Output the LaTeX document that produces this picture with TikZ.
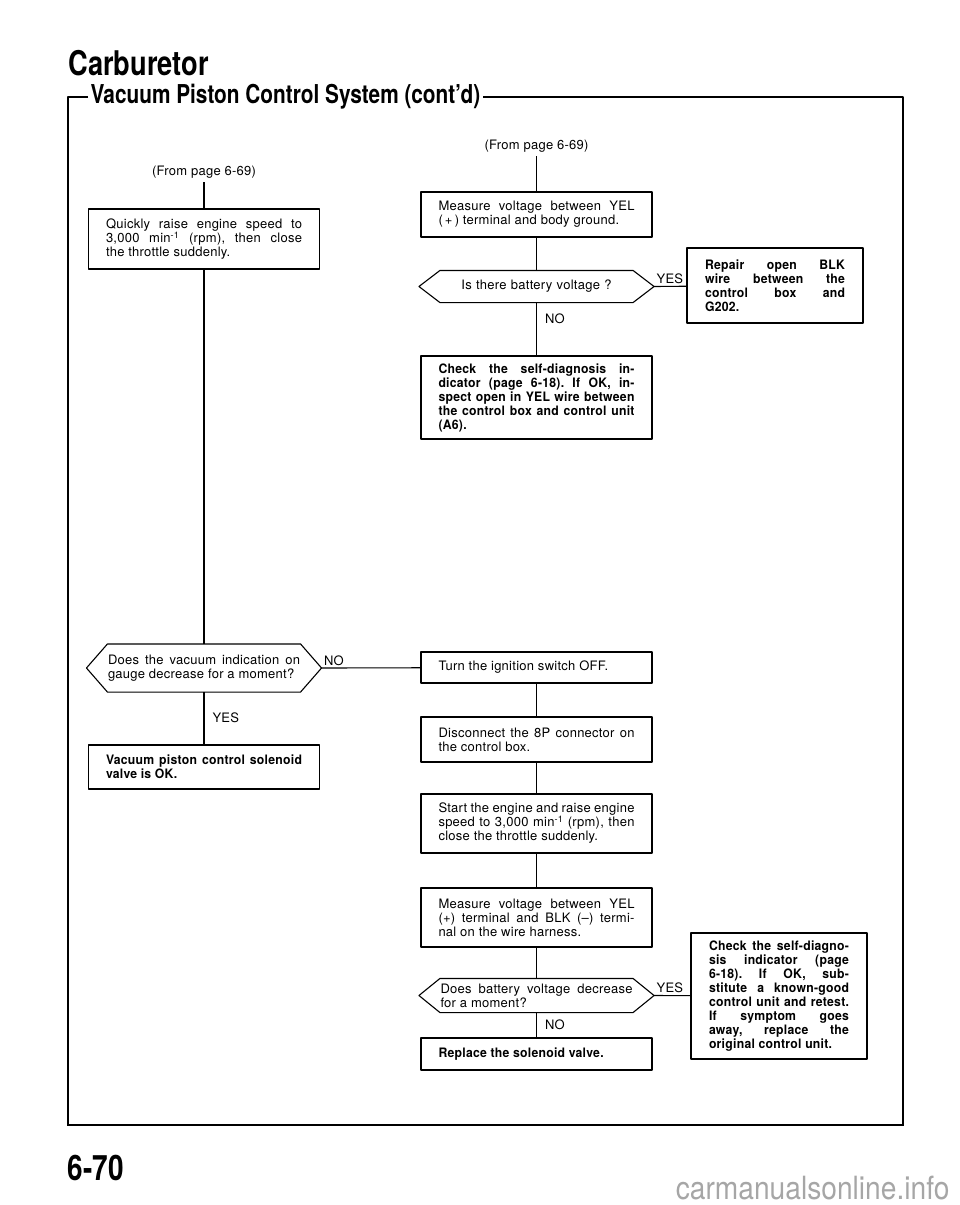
\documentclass[tikz,border=0pt]{standalone}
\usepackage{fontspec}
\setmainfont{TeX Gyre Heros}
\newfontfamily\bodyfont[LetterSpace=2,BoldFeatures={FakeStretch=0.94}]{TeX Gyre Heros}
\newfontfamily\headfont[FakeStretch=0.8]{TeX Gyre Heros}
\newfontfamily\markfont[FakeStretch=0.88]{TeX Gyre Heros}
\usetikzlibrary{calc,positioning}
\tolerance=10000 \hbadness=10000 \hyphenpenalty=10000
\AtBeginDocument{\frenchspacing}
\begin{document}
\begin{tikzpicture}[x=1pt,y=-1pt,line width=1.1pt,line join=round,
	txt/.style={font=\bodyfont\fontsize{13}{14}\selectfont},
	box/.style={txt,draw,rectangle,text width=196pt,inner xsep=17.5pt,inner ysep=0pt,align=justify},
	sbox/.style={box,text width=140pt,inner xsep=18pt},
	ask/.style={txt,rectangle,text width=192pt,inner sep=0pt,align=justify},
	lbl/.style={txt,inner sep=2pt}]
		\useasboundingbox (0,0) rectangle (960,1205);
		\node[anchor=base west,inner sep=0,font=\headfont\bfseries\fontsize{34}{40}\selectfont] (head) at (68,75) {Carburetor};
		\node[anchor=west,inner sep=2pt,font=\headfont\bfseries\fontsize{26}{30}\selectfont] (sub) at (88,97) {Vacuum Piston Control System (cont’d)};
		\draw[line width=1.6pt] (sub.west) -- (68,97) -- (68,1125) (903,1125) -- (903,97) -- (sub.east);
		\draw[line width=2.4pt] (67,1125) -- (904,1125);
		\node[anchor=base west,inner sep=0,font=\headfont\bfseries\fontsize{35}{40}\selectfont] (page) at (67,1180) {6-70};
		\node[anchor=base east,inner sep=0,text=black!35,font=\markfont\fontsize{32}{36}\selectfont] (mark) at (950,1199) {carmanualsonline.info};
		% left column
		\node[txt] (fromA) at (204,172) {(From page 6-69)};
		\node[box,minimum height=60pt] (raise) at (204,239) {Quickly raise engine speed to\linebreak 3,000 min\textsuperscript{-1} (rpm), then close\linebreak the throttle suddenly.};
		\node[ask,minimum height=47pt] (askA) at (204,668) {Does the vacuum indication on\linebreak gauge decrease for a moment?};
		\node[box,minimum height=44pt] (okay) at (204,767) {\bfseries Vacuum piston control solenoid\linebreak valve is OK.};
		% right column
		\node[txt] (fromB) at (536.5,146) {(From page 6-69)};
		\node[box,minimum height=45pt] (meas) at (536.5,214.5) {Measure voltage between YEL\linebreak (\,+\,) terminal and body ground.};
		\node[ask,align=center,minimum height=31pt] (askB) at (536.5,286.5) {Is there battery voltage ?};
		\node[sbox,minimum height=75pt] (repair) at (775,285.5) {\bfseries Repair open BLK\linebreak wire between the\linebreak control box and\linebreak G202.};
		\node[box,minimum height=83pt] (selfA) at (536.5,397.5) {\bfseries Check the self-diagnosis in-\linebreak dicator (page 6-18). If OK, in-\linebreak spect open in YEL wire between\linebreak the control box and control unit\linebreak (A6).};
		\node[box,minimum height=31pt] (ign) at (536.5,667.5) {Turn the ignition switch OFF.};
		\node[box,minimum height=45pt] (disc) at (536.5,739.5) {Disconnect the 8P connector on\linebreak the control box.};
		\node[box,minimum height=59pt] (start) at (536.5,823.5) {Start the engine and raise engine\linebreak speed to 3,000 min\textsuperscript{-1} (rpm), then\linebreak close the throttle suddenly.};
		\node[box,minimum height=59pt] (harn) at (536.5,917.5) {Measure voltage between YEL\linebreak (+) terminal and BLK (–) termi-\linebreak nal on the wire harness.};
		\node[ask,minimum height=33pt] (askC) at (536.5,995.5) {Does battery voltage decrease\linebreak for a moment?};
		\node[sbox,minimum height=126pt] (selfB) at (779,996) {\bfseries Check the self-diagno-\linebreak sis indicator (page\linebreak 6-18). If OK, sub-\linebreak stitute a known-good\linebreak control unit and retest.\linebreak If symptom goes\linebreak away, replace the\linebreak original control unit.};
		\node[box,minimum height=32pt] (solen) at (536.5,1054) {\bfseries Replace the solenoid valve.};
		% question outlines
		\foreach \q in {askA,askB,askC} {
			\coordinate (\q-l) at ($(\q.west)+(-21,0)$);
			\coordinate (\q-r) at ($(\q.east)+(21,0)$);
			\draw (\q.north west) -- (\q.north east) -- (\q-r) -- (\q.south east) -- (\q.south west) -- (\q-l) -- cycle;
		}
		\draw (fromA) -- (raise) -- (askA);
		\draw (askA) -- node[lbl,right,xshift=6pt] {YES} (okay);
		\draw (askA-r) -- node[lbl,above right,pos=0] {NO} (ign);
		\draw (fromB) -- (meas) -- (askB);
		\draw (askB-r) -- node[lbl,above right,pos=0] {YES} (repair);
		\draw (askB) -- node[lbl,right,xshift=6pt,pos=0.3] {NO} (selfA);
		\draw (ign) -- (disc) -- (start) -- (harn) -- (askC);
		\draw (askC-r) -- node[lbl,above right,pos=0] {YES} (selfB);
		\draw (askC) -- node[lbl,right,xshift=6pt] {NO} (solen);
	\end{tikzpicture}
\end{document}
